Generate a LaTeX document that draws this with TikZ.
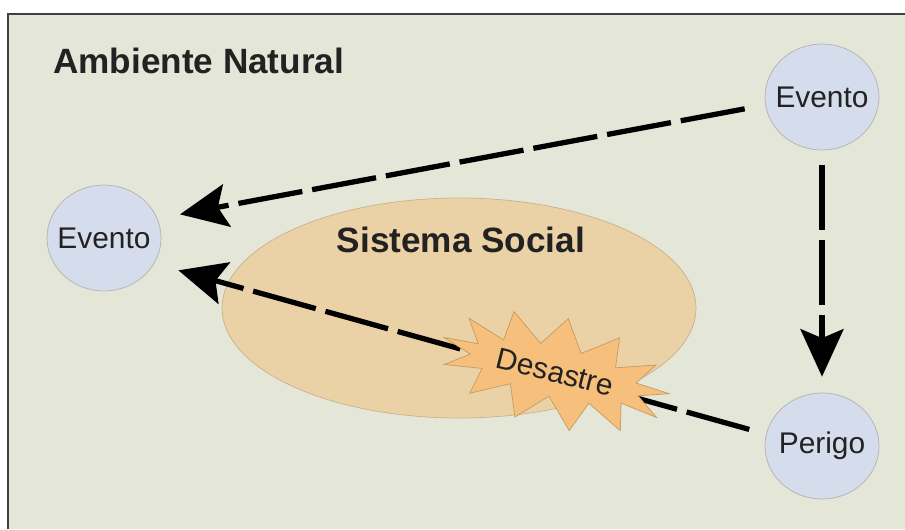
\documentclass[tikz,border=0pt]{standalone}
\usepackage{fontspec}
\setmainfont{Liberation Sans}
\usetikzlibrary{shapes.geometric, shapes.symbols, arrows.meta}
\definecolor{fundo}{HTML}{E4E6D8}
\definecolor{bolha}{HTML}{D5DCEC}
\definecolor{social}{HTML}{EBD1A6}
\definecolor{explosao}{HTML}{F6C07C}
\definecolor{texto}{HTML}{222222}

\begin{document}
\begin{tikzpicture}[>={Stealth[length=9.5mm, width=8.6mm, inset=1.8mm]},
  evento/.style={ellipse, draw=gray!60, fill=bolha, minimum width=22.8mm,
    minimum height=21.2mm, inner xsep=-1.5mm, inner ysep=0pt, text=texto,
    font=\fontsize{17}{20}\selectfont},
  seta/.style={->, line width=3pt, dash pattern=on 13mm off 2mm}]
\useasboundingbox (0,0) rectangle (18.1,10.58);
\fill[fundo] (0.16,0) rectangle (18.1,10.30);
\draw[line width=.8pt, black!75] (0.16,0) -- (0.16,10.30) -- (18.1,10.30);
\node[anchor=base west, text=texto, font=\bfseries\fontsize{20}{24}\selectfont]
  (ambiente) at (0.94,9.12) {Ambiente Natural};

% sistema social
\node[ellipse, fill=social, draw=social!85!black, minimum width=94.8mm,
  minimum height=44mm] (social) at (9.18,4.42) {};
\node[anchor=base, text=texto, font=\bfseries\fontsize{20}{24}\selectfont]
  (sistema) at (9.22,5.54) {Sistema Social};

% eventos
\node[evento] (eventoR) at (16.44,8.64) {Evento};
\node[evento] (eventoL) at (2.08,5.82) {Evento};
\node[evento] (perigo) at (16.44,1.66) {Perigo};

\draw[seta, shorten <=4.2mm, shorten >=4.6mm] (eventoR.188) -- (eventoL.20);
\draw[seta, shorten <=3mm, shorten >=3.2mm] (eventoR) -- (perigo);
\draw[seta, shorten <=3.5mm, shorten >=5mm] (perigo.168) -- (eventoL.-27);

\node[starburst, starburst points=13, starburst point height=6mm,
  random starburst=0, fill=explosao, draw=explosao!80!black, rotate=-14,
  minimum width=39mm, minimum height=22mm, inner sep=1pt, text=texto,
  font=\fontsize{17}{20}\selectfont] (desastre) at (11.1,3.14) {Desastre};
\end{tikzpicture}
\end{document}
